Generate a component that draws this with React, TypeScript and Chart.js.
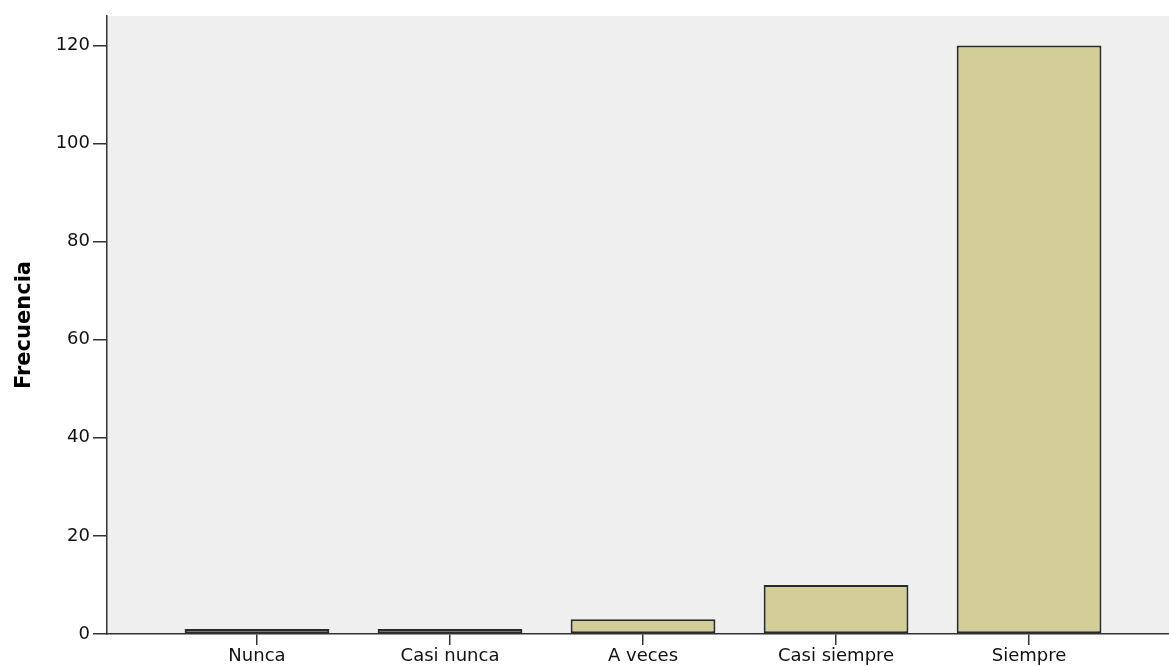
import React, { useEffect, useRef } from "react";
import { Chart, registerables } from "chart.js";

Chart.register(...registerables);

const categories = ["Nunca", "Casi nunca", "A veces", "Casi siempre", "Siempre"];
const frequencies = [1, 1, 3, 10, 120];
const yTicks = [0, 20, 40, 60, 80, 100, 120];

const W = 1169;
const H = 666;

const plotBg = {
  id: "plotBg",
  beforeDraw(chart: any) {
    const { ctx, chartArea } = chart;
    if (!chartArea) return;
    ctx.save();
    ctx.fillStyle = "#efefef";
    ctx.fillRect(chartArea.left, chartArea.top, chartArea.right - chartArea.left, chartArea.bottom - chartArea.top);
    ctx.restore();
  },
};

export default function App() {
  const ref = useRef<HTMLCanvasElement | null>(null);

  useEffect(() => {
    if (!ref.current) return;
    const points = categories.map((c, i) => ({ x: i + 1, y: frequencies[i] }));
    const chart = new Chart(ref.current, {
      type: "bar",
      data: {
        datasets: [
          {
            data: points as any,
            backgroundColor: "#d3ce97",
            borderColor: "#2a2a2a",
            borderWidth: 2,
            borderSkipped: false,
            barPercentage: 0.75,
            categoryPercentage: 1,
          },
        ],
      },
      options: {
        animation: false,
        responsive: false,
        maintainAspectRatio: false,
        devicePixelRatio: 1,
        layout: { padding: { top: 16, right: 0, left: 0, bottom: 0 } },
        plugins: { legend: { display: false }, tooltip: { enabled: false } },
        scales: {
          x: {
            type: "linear",
            offset: false,
            min: 0.223,
            max: 5.725,
            afterFit(scale: any) {
              scale.height = 32;
            },
            afterBuildTicks(scale: any) {
              scale.ticks = categories.map((c, i) => ({ value: i + 1 }));
            },
            ticks: {
              includeBounds: false,
              stepSize: 1,
              autoSkip: false,
              maxRotation: 0,
              padding: 1,
              color: "#111",
              font: { family: "DejaVu Sans", size: 18 },
              callback: (v: any) => categories[Math.round(Number(v)) - 1] ?? "",
            },
            grid: {
              offset: false,
              drawOnChartArea: false,
              drawTicks: true,
              tickLength: 11,
              color: "#333",
              lineWidth: 1.5,
            },
            border: { display: true, color: "#333", width: 1.5 },
          },
          y: {
            type: "linear",
            min: 0,
            max: 126,
            afterFit(scale: any) {
              scale.width = 107;
            },
            afterBuildTicks(scale: any) {
              scale.ticks = yTicks.map((v) => ({ value: v }));
            },
            ticks: {
              includeBounds: false,
              stepSize: 20,
              padding: 3,
              color: "#111",
              font: { family: "DejaVu Sans", size: 18 },
            },
            grid: {
              drawOnChartArea: false,
              drawTicks: true,
              tickLength: 14,
              color: "#333",
              lineWidth: 1.5,
            },
            border: { display: true, color: "#333", width: 1.5 },
            title: {
              display: true,
              text: "Frecuencia",
              color: "#000",
              font: { family: "DejaVu Sans", size: 21, weight: "bold" },
              padding: { top: 12, bottom: 0 },
            },
          },
        },
      },
      plugins: [plotBg],
    });
    return () => chart.destroy();
  }, []);

  return (
    <div style={{ position: "fixed", left: 0, top: 0, width: W, height: H, background: "#fff" }}>
      <canvas ref={ref} width={W} height={H} style={{ width: W, height: H, display: "block" }} />
    </div>
  );
}
